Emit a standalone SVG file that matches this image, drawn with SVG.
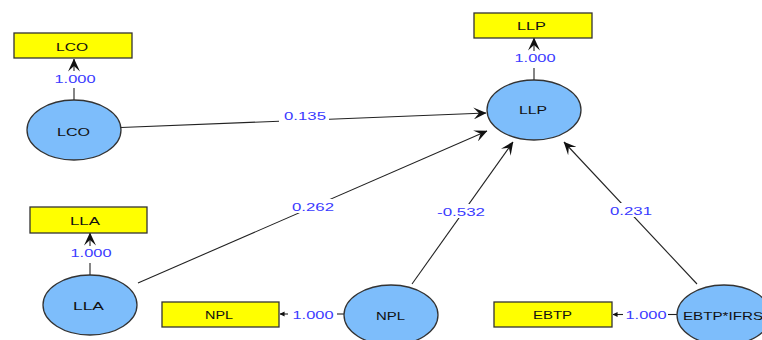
<svg xmlns="http://www.w3.org/2000/svg" width="762" height="340" viewBox="0 0 762 340">
  <style>
    .lv ellipse { fill: #7dbdfb; stroke: #333; stroke-width: 1.3; }
    .mv rect { fill: #ffff00; stroke: #333; stroke-width: 1.3; }
    text { font-family: "Liberation Sans", Arial, sans-serif; font-size: 11.5px; text-anchor: middle; }
    .name { fill: #111; }
    .coef { fill: #3a3aff; }
    .edge { stroke: #222; stroke-width: 1.1; fill: none; }
    .lbl { fill: #fff; }
  </style>
  <defs>
    <marker id="arrow" viewBox="0 0 13 12" refX="12.5" refY="6" markerWidth="13" markerHeight="12" markerUnits="userSpaceOnUse" orient="auto">
      <path d="M0,0 L13,6 L0,12 L5.5,6 z" fill="#111"/>
    </marker>
    <marker id="tip" viewBox="0 0 6 6" refX="5.5" refY="3" markerWidth="5" markerHeight="6" markerUnits="userSpaceOnUse" orient="auto">
      <path d="M0,0 L6,3 L0,6 z" fill="#111"/>
    </marker>
  </defs>

  <!-- paths between latent variables and to indicators -->
  <g id="connectors">
    <line class="edge" x1="121" y1="127.5" x2="486" y2="113" marker-end="url(#arrow)"/>
    <line class="edge" x1="138" y1="283" x2="487" y2="131" marker-end="url(#arrow)"/>
    <line class="edge" x1="412" y1="284" x2="513" y2="142" marker-end="url(#arrow)"/>
    <line class="edge" x1="697" y1="284" x2="564" y2="142" marker-end="url(#arrow)"/>

    <line class="edge" x1="74" y1="100" x2="74" y2="88"/>
    <line class="edge" x1="74" y1="71" x2="74" y2="59" marker-end="url(#arrow)"/>
    <line class="edge" x1="534" y1="80" x2="534" y2="68"/>
    <line class="edge" x1="534" y1="51" x2="534" y2="38" marker-end="url(#arrow)"/>
    <line class="edge" x1="90" y1="275" x2="90" y2="263"/>
    <line class="edge" x1="90" y1="246" x2="90" y2="233" marker-end="url(#arrow)"/>
    <line class="edge" x1="344" y1="314" x2="337" y2="314"/>
    <line class="edge" x1="288" y1="314" x2="280" y2="314" marker-end="url(#tip)"/>
    <line class="edge" x1="677" y1="314.5" x2="668" y2="314.5"/>
    <line class="edge" x1="623" y1="314.5" x2="613" y2="314.5" marker-end="url(#tip)"/>

    <!-- coefficient labels sit on white plates that break the path -->
    <rect class="lbl" x="279" y="108" width="50" height="14"/>
    <rect class="lbl" x="287" y="199" width="52" height="14"/>
    <rect class="lbl" x="434" y="204" width="55" height="14"/>
    <rect class="lbl" x="605" y="203" width="52" height="14"/>
    <text class="coef" x="305" y="120" textLength="42" lengthAdjust="spacingAndGlyphs">0.135</text>
    <text class="coef" x="313" y="211" textLength="42" lengthAdjust="spacingAndGlyphs">0.262</text>
    <text class="coef" x="461" y="215.5" textLength="48" lengthAdjust="spacingAndGlyphs">-0.532</text>
    <text class="coef" x="631" y="215" textLength="42" lengthAdjust="spacingAndGlyphs">0.231</text>

    <text class="coef" x="75" y="82.5" textLength="41" lengthAdjust="spacingAndGlyphs">1.000</text>
    <text class="coef" x="535" y="62" textLength="41" lengthAdjust="spacingAndGlyphs">1.000</text>
    <text class="coef" x="91" y="256.5" textLength="41" lengthAdjust="spacingAndGlyphs">1.000</text>
    <text class="coef" x="313" y="318.5" textLength="41" lengthAdjust="spacingAndGlyphs">1.000</text>
    <text class="coef" x="646" y="318.5" textLength="41" lengthAdjust="spacingAndGlyphs">1.000</text>
  </g>

  <!-- indicators -->
  <g id="ind-LCO" class="mv"><rect x="14" y="33" width="118" height="25"/><text class="name" x="72" y="50.5" textLength="32" lengthAdjust="spacingAndGlyphs">LCO</text></g>
  <g id="ind-LLP" class="mv"><rect x="474" y="13" width="118" height="25"/><text class="name" x="531.5" y="30" textLength="29" lengthAdjust="spacingAndGlyphs">LLP</text></g>
  <g id="ind-LLA" class="mv"><rect x="30" y="207" width="117" height="26"/><text class="name" x="85" y="225" textLength="30" lengthAdjust="spacingAndGlyphs">LLA</text></g>
  <g id="ind-NPL" class="mv"><rect x="162" y="302" width="117" height="25"/><text class="name" x="219" y="318.7" textLength="28" lengthAdjust="spacingAndGlyphs">NPL</text></g>
  <g id="ind-EBTP" class="mv"><rect x="494" y="302" width="118" height="25"/><text class="name" x="552.5" y="318.7" textLength="39" lengthAdjust="spacingAndGlyphs">EBTP</text></g>

  <!-- latent variables -->
  <g id="LCO" class="lv"><ellipse cx="74" cy="130" rx="47" ry="30"/><text class="name" x="73.5" y="135.5" textLength="33" lengthAdjust="spacingAndGlyphs">LCO</text></g>
  <g id="LLP" class="lv"><ellipse cx="534" cy="110" rx="47" ry="30"/><text class="name" x="533" y="114" textLength="28" lengthAdjust="spacingAndGlyphs">LLP</text></g>
  <g id="LLA" class="lv"><ellipse cx="90" cy="305" rx="47" ry="30"/><text class="name" x="88.5" y="310" textLength="31" lengthAdjust="spacingAndGlyphs">LLA</text></g>
  <g id="NPL" class="lv"><ellipse cx="391" cy="315" rx="47" ry="30"/><text class="name" x="390.5" y="320" textLength="29" lengthAdjust="spacingAndGlyphs">NPL</text></g>
  <g id="EBTP_IFRS" class="lv"><ellipse cx="724" cy="315" rx="47" ry="30"/><text class="name" x="723" y="320" textLength="80" lengthAdjust="spacingAndGlyphs">EBTP*IFRS</text></g>
</svg>
